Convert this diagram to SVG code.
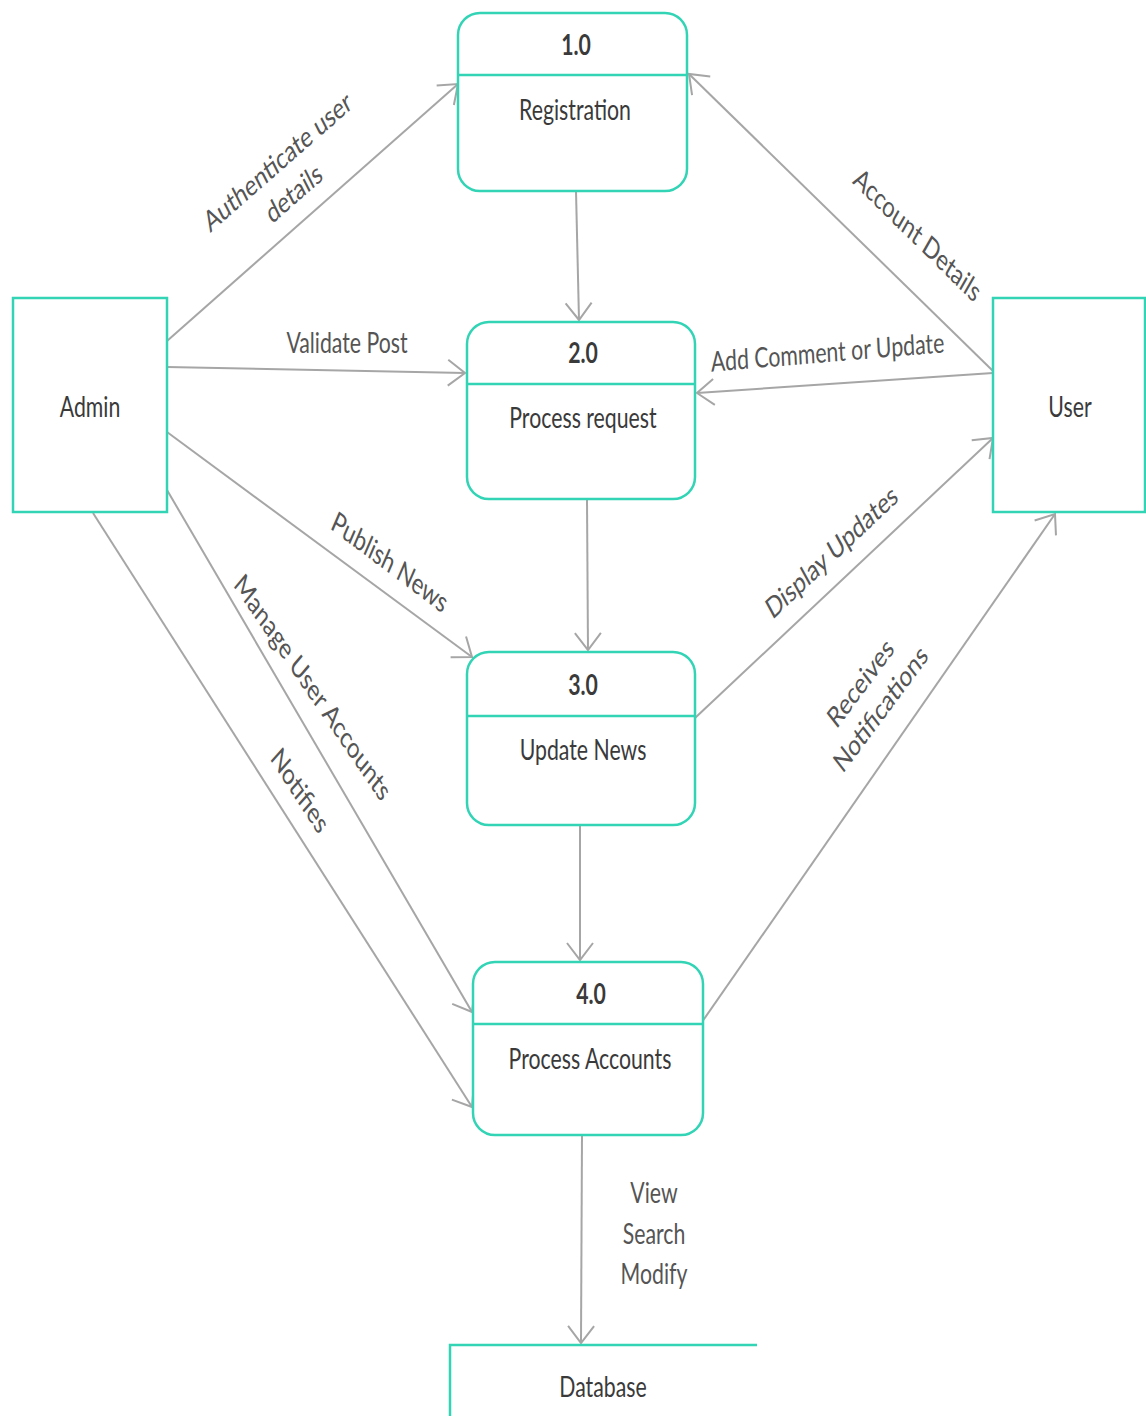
<svg xmlns="http://www.w3.org/2000/svg" width="1146" height="1416" viewBox="0 0 1146 1416">
<style>
.box{fill:#fff;stroke:#33d4b6;stroke-width:2.5}
.div{stroke:#33d4b6;stroke-width:2.5;fill:none}
.ln{stroke:#a6a6a6;stroke-width:2;fill:none;marker-end:url(#arr)}
.t{font-family:Lato,'Liberation Sans',sans-serif;font-size:28px;fill:#3a3a3a;text-anchor:middle}
.b{font-weight:bold}
.e{font-family:Lato,'Liberation Sans',sans-serif;font-size:28px;fill:#555;text-anchor:middle}
.d{font-family:Lato,'Liberation Sans',sans-serif;font-size:29px;fill:#555;text-anchor:middle}
</style>
<defs>
<marker id="arr" markerUnits="userSpaceOnUse" viewBox="-20 -16 24 32" refX="0" refY="0" markerWidth="24" markerHeight="32" orient="auto" overflow="visible">
<path d="M-17,-13 L0,0 L-17,13" fill="none" stroke="#a6a6a6" stroke-width="2"/>
</marker>
</defs>
<rect width="1146" height="1416" fill="#fff"/>

<g id="connectors">
<line class="ln" x1="167" y1="341" x2="458" y2="84"/>
<line class="ln" x1="167" y1="367" x2="465" y2="373"/>
<line class="ln" x1="167" y1="432" x2="472" y2="657"/>
<line class="ln" x1="167" y1="490" x2="472" y2="1012"/>
<line class="ln" x1="93" y1="513" x2="472" y2="1107"/>
<line class="ln" x1="576" y1="191" x2="579" y2="320"/>
<line class="ln" x1="587" y1="500" x2="588" y2="650"/>
<line class="ln" x1="580" y1="825" x2="580" y2="960"/>
<line class="ln" x1="582" y1="1135" x2="581" y2="1343"/>
<line class="ln" x1="993" y1="371" x2="689" y2="74"/>
<line class="ln" x1="993" y1="373" x2="697" y2="393"/>
<line class="ln" x1="695" y1="718" x2="993" y2="438"/>
<line class="ln" x1="702" y1="1022" x2="1055" y2="514"/>

<text class="d" transform="translate(282,170) scale(0.76,1) rotate(-33.7)"><tspan x="0" y="0">Authenticate user</tspan><tspan x="0" y="38">details</tspan></text>
<text class="e" transform="translate(347,353) scale(0.76,1)">Validate Post</text>
<text class="d" transform="translate(386,571) scale(0.76,1) rotate(29.8)">Publish News</text>
<text class="d" transform="translate(307,694) scale(0.76,1) rotate(48)">Manage User Accounts</text>
<text class="d" transform="translate(294,797) scale(0.76,1) rotate(49.8)">Notifies</text>
<text class="d" transform="translate(913,243) scale(0.76,1) rotate(36.8)">Account Details</text>
<text class="e" transform="translate(828,362) scale(0.76,1) rotate(-3.6)">Add Comment or Update</text>
<text class="d" transform="translate(836,560) scale(0.76,1) rotate(-35.6)">Display Updates</text>
<text class="d" transform="translate(866,690) scale(0.76,1) rotate(-45.7)"><tspan x="0" y="0">Receives</tspan><tspan x="0" y="37">Notifications</tspan></text>
<text class="e" transform="translate(654,1203) scale(0.76,1)"><tspan x="0" y="0">View</tspan><tspan x="0" y="41">Search</tspan><tspan x="0" y="81">Modify</tspan></text>
</g>

<g id="p1">
<rect class="box" x="458" y="13" width="229" height="178" rx="22" ry="22"/>
<line class="div" x1="458" y1="75" x2="687" y2="75"/>
<text class="t b" transform="translate(576,55) scale(0.76,1)">1.0</text>
<text class="t" transform="translate(575,120) scale(0.76,1)">Registration</text>
</g>

<g id="p2">
<rect class="box" x="467" y="322" width="228" height="177" rx="22" ry="22"/>
<line class="div" x1="467" y1="384" x2="695" y2="384"/>
<text class="t b" transform="translate(583,363) scale(0.76,1)">2.0</text>
<text class="t" transform="translate(583,428) scale(0.76,1)">Process request</text>
</g>

<g id="p3">
<rect class="box" x="467" y="652" width="228" height="173" rx="22" ry="22"/>
<line class="div" x1="467" y1="716" x2="695" y2="716"/>
<text class="t b" transform="translate(583,695) scale(0.76,1)">3.0</text>
<text class="t" transform="translate(583,760) scale(0.76,1)">Update News</text>
</g>

<g id="p4">
<rect class="box" x="473" y="962" width="230" height="173" rx="22" ry="22"/>
<line class="div" x1="473" y1="1024" x2="703" y2="1024"/>
<text class="t b" transform="translate(591,1004) scale(0.76,1)">4.0</text>
<text class="t" transform="translate(590,1069) scale(0.76,1)">Process Accounts</text>
</g>

<g id="admin">
<rect class="box" x="13" y="298" width="154" height="214"/>
<text class="t" transform="translate(90,417) scale(0.76,1)">Admin</text>
</g>

<g id="user">
<rect class="box" x="993" y="298" width="152" height="214"/>
<text class="t" transform="translate(1070,417) scale(0.76,1)">User</text>
</g>

<g id="database">
<path class="div" d="M757,1345 H450 V1416"/>
<text class="t" transform="translate(603,1397) scale(0.76,1)">Database</text>
</g>
</svg>
